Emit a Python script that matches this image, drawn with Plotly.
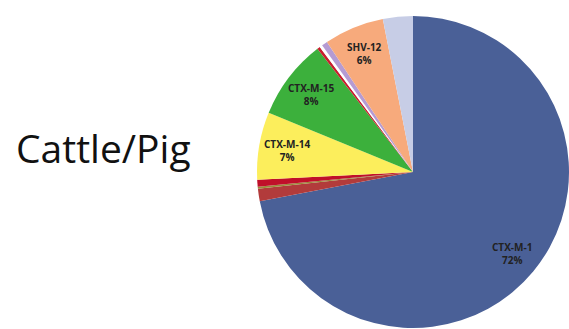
import math
import plotly.graph_objects as go

labels = ["CTX-M-1", "Other A", "Other B", "Other C", "CTX-M-14", "CTX-M-15",
          "Other D", "Other E", "Other F", "SHV-12", "Other G"]
values = [72, 1.3, 0.2, 0.7, 7, 8.3, 0.3, 0.3, 0.6, 6.2, 3.1]
shown = ["CTX-M-1<br>72%", "", "", "", "CTX-M-14<br>7%", "CTX-M-15<br>8%",
         "", "", "", "SHV-12<br>6%", ""]
colors = ["#4a6097", "#b23b3b", "#9a8a3a", "#c0102a", "#fcee5c", "#3cb03c",
          "#c81e2e", "#ffffff", "#b59bd3", "#f7aa7c", "#c7cde6"]

W, H = 569, 329
CX, CY, R = 413, 172, 156  # pixel centre / radius (from top-left)
LABEL_F = 0.82

fig = go.Figure(go.Pie(
    labels=labels, values=values,
    textinfo="none",
    sort=False, direction="clockwise", rotation=0,
    marker=dict(colors=colors, line=dict(width=0)),
    domain=dict(x=[(CX - R) / W, 1], y=[0, 2 * (H - CY) / H]),
    showlegend=False, hoverinfo="none",
))

total = sum(values)
cum = 0.0
for v, t in zip(values, shown):
    mid = (cum + v / 2) / total * 2 * math.pi
    cum += v
    if not t:
        continue
    px = CX + LABEL_F * R * math.sin(mid)
    py = CY - LABEL_F * R * math.cos(mid)
    fig.add_annotation(text=t, x=px / W, y=1 - py / H, xref="paper", yref="paper",
                       xanchor="center", yanchor="middle", showarrow=False,
                       font=dict(family="Open Sans", size=10, color="#222222", weight="bold"))

fig.add_annotation(text="Cattle/Pig", x=14 / W, y=1 - 147 / H, xref="paper", yref="paper",
                   xanchor="left", yanchor="middle", showarrow=False,
                   font=dict(family="Open Sans", size=39, color="#111111"))
fig.update_layout(width=W, height=H, margin=dict(l=0, r=0, t=0, b=0),
                  paper_bgcolor="white", plot_bgcolor="white")
fig.write_html("out.html")
